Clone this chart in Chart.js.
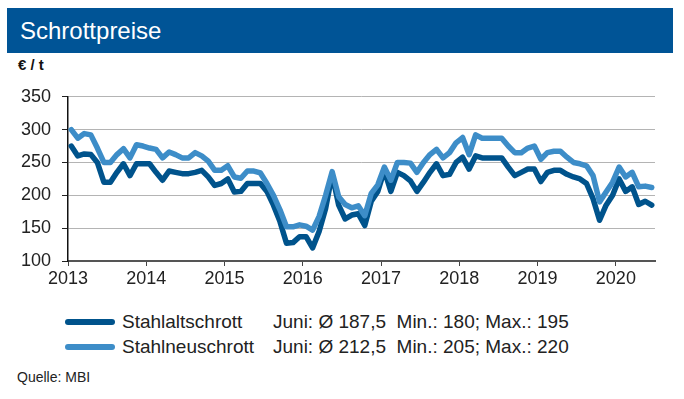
<!DOCTYPE html>
<html>
<head>
<meta charset="utf-8">
<script src="https://cdn.jsdelivr.net/npm/chart.js@4.4.0/dist/chart.umd.min.js"></script>
<style>
  body { margin:0; background:#fff; font-family:"Liberation Sans", Arial, sans-serif; }
  #wrap { position:relative; width:684px; height:399px; overflow:hidden; }
  #title { position:absolute; left:7px; top:8px; width:666px; height:45px; background:#005496;
           color:#fff; font-size:24px; line-height:45px; text-indent:13px; }
  #unit { position:absolute; left:18px; top:56px; font-size:15px; font-weight:bold; color:#111; }
  #cv { position:absolute; left:0; top:75px; }
  .leg { position:absolute; font-size:19px; color:#222; white-space:pre; }
  .swatch { position:absolute; left:65px; width:50px; height:6px; border-radius:3px; }
  #src { position:absolute; left:17px; top:369px; font-size:14px; color:#222; }
</style>
</head>
<body>
<div id="wrap">
  <div id="title">Schrottpreise</div>
  <div id="unit">€ / t</div>
  <canvas id="cv" width="684" height="215"></canvas>
  <div class="swatch" style="top:319px;background:#00538c"></div>
  <div class="leg" style="left:122px;top:311px">Stahlaltschrott</div>
  <div class="leg" style="left:273px;top:311px">Juni: Ø 187,5  Min.: 180; Max.: 195</div>
  <div class="swatch" style="top:344px;background:#3d8dc8"></div>
  <div class="leg" style="left:122px;top:336px">Stahlneuschrott</div>
  <div class="leg" style="left:273px;top:336px">Juni: Ø 212,5  Min.: 205; Max.: 220</div>
  <div id="src">Quelle: MBI</div>
</div>
<script>
// monatswerte jan 2013 - jun 2020
var years = [2013, 2014, 2015, 2016, 2017, 2018, 2019, 2020];
var yTicks = [100, 150, 200, 250, 300, 350];

var altschrott = [
  275, 260, 263, 262, 250, 220, 220, 235, 248, 230, 248, 248,
  248, 235, 223, 237, 235, 233, 233, 235, 238, 228, 215, 218,
  225, 205, 206, 218, 218, 218, 206, 185, 160, 127, 128, 137,
  137, 120, 145, 180, 232, 185, 164, 170, 172, 154, 191, 206,
  238, 206, 235, 230, 222, 206, 220, 235, 248, 230, 232, 250,
  258, 240, 260, 257, 257, 257, 257, 243, 230, 235, 240, 240,
  221, 235, 238, 238, 232, 228, 225, 218, 195, 162, 185, 200,
  225, 206, 213, 186, 191, 185
];
var neuschrott = [
  300, 287, 294, 292, 272, 250, 250, 262, 271, 257, 277, 275,
  272, 270, 257, 266, 262, 257, 257, 265, 260, 252, 238, 238,
  245, 228, 226, 237, 237, 234, 218, 200, 178, 152, 152, 155,
  153, 147, 168, 200, 236, 198, 186, 181, 184, 169, 203, 216,
  243, 223, 250, 250, 249, 235, 250, 262, 270, 257, 265, 280,
  288, 262, 292, 287, 287, 287, 287, 275, 265, 265, 272, 275,
  255, 265, 267, 267, 258, 250, 248, 245, 230, 190, 205, 220,
  243, 228, 235, 213, 214, 212
];

function toPoints(arr){
  var pts = [];
  for (var i = 0; i < arr.length; i++) {
    pts.push({x: i + 0.5, y: arr[i]}); // monatsmitte
  }
  return pts;
}

var font = {family: "'Liberation Sans', Arial, sans-serif", size: 18};

new Chart(document.getElementById("cv"), {
  type: 'line',
  data: {
    datasets: [{
      label: "Stahlneuschrott",
      data: toPoints(neuschrott),
      borderColor: "#3d8dc8",
      borderWidth: 5.5,
      pointRadius: 0,
      tension: 0,
      borderJoinStyle: 'round',
      borderCapStyle: 'round'
    }, {
      label: "Stahlaltschrott",
      data: toPoints(altschrott),
      borderColor: "#00538c",
      borderWidth: 5.5,
      pointRadius: 0,
      tension: 0,
      borderJoinStyle: 'round',
      borderCapStyle: 'round'
    }]
  },
  options: {
    responsive: false,
    animation: false,
    layout: {padding: {left: 0, right: 29, top: 14, bottom: 0}},
    plugins: {legend: {display: false}, tooltip: {enabled: false}},
    scales: {
      x: {
        type: 'linear',
        min: 0,
        max: 90,
        afterFit: function(s){ s.height = 29; },
        afterBuildTicks: function(s){
          s.ticks = years.map(function(y, k){ return {value: k * 12}; });
        },
        ticks: {
          font: font, color: "#222", padding: 2, maxRotation: 0,
          callback: function(v){ return String(years[0] + v / 12); }
        },
        grid: {drawOnChartArea: false, drawTicks: true, tickLength: 5, color: "#444"},
        border: {color: "#555", width: 2}
      },
      y: {
        min: 100,
        max: 350,
        afterFit: function(s){ s.width = 68; },
        afterBuildTicks: function(s){
          s.ticks = yTicks.map(function(v){ return {value: v}; });
        },
        ticks: {font: font, color: "#222", padding: 11},
        grid: {color: "#b4b4b4", lineWidth: 1, tickLength: 6, tickColor: "#222"},
        border: {color: "#111", width: 1.5}
      }
    }
  }
});
</script>
</body>
</html>
